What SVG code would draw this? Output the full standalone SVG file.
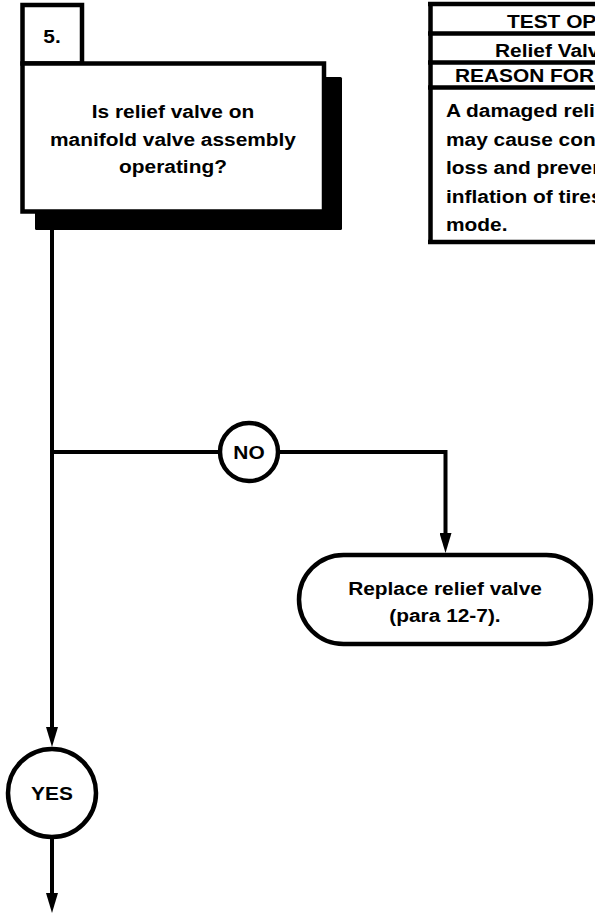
<svg xmlns="http://www.w3.org/2000/svg" width="595" height="915" viewBox="0 0 595 915">
  <style>
    .box { fill: #fff; stroke: #000; stroke-width: 4.5; }
    .shadow { fill: #000; }
    .edge { fill: none; stroke: #000; stroke-width: 4; stroke-linejoin: miter; }
    .rule { fill: none; stroke: #000; stroke-width: 4.5; }
    .t { font-family: "Liberation Sans", Arial, Helvetica, sans-serif; font-weight: bold; font-size: 18px; fill: #000; }
    .c { text-anchor: middle; }
  </style>
  <defs>
    <marker id="arrow" viewBox="0 0 20 12" refX="6" refY="6" markerWidth="20" markerHeight="12" markerUnits="userSpaceOnUse" orient="auto">
      <path d="M0,0 L20,6 L0,12 Z" fill="#000"/>
    </marker>
  </defs>

  <rect width="595" height="915" fill="#fff"/>

  <!-- connectors -->
  <g id="connectors">
    <path class="edge" d="M52,214 V733" marker-end="url(#arrow)"/>
    <path class="edge" d="M52,452 H220"/>
    <path class="edge" d="M278,452 H445.5 V539" marker-end="url(#arrow)"/>
    <path class="edge" d="M52,837 V899" marker-end="url(#arrow)"/>
  </g>

  <!-- step 5 question box -->
  <g id="step5">
    <rect class="shadow" x="35" y="77" width="307" height="153" rx="1.5"/>
    <rect class="box" x="22.5" y="5" width="59.5" height="58.5"/>
    <rect class="box" x="22.5" y="63.5" width="301.5" height="148"/>
    <text class="t c" transform="translate(52,43) scale(1.16,1)">5.</text>
    <text class="t c" transform="translate(173,118) scale(1.16,1)">Is relief valve on</text>
    <text class="t c" transform="translate(173,146) scale(1.16,1)">manifold valve assembly</text>
    <text class="t c" transform="translate(173,173) scale(1.16,1)">operating?</text>
  </g>

  <!-- test options table -->
  <g id="test-table">
    <path class="rule" d="M430.5,2 V244 M428,4 H600 M428,33.5 H600 M428,62.5 H600 M428,87.5 H600 M428,242 H600"/>
    <text class="t" transform="translate(507,28) scale(1.16,1)">TEST OPT</text>
    <text class="t" transform="translate(495,57) scale(1.16,1)">Relief Valv</text>
    <text class="t" transform="translate(455,82) scale(1.16,1)">REASON FOR</text>
    <text class="t" transform="translate(446,117) scale(1.16,1)">A damaged reli</text>
    <text class="t" transform="translate(446,146) scale(1.16,1)">may cause con</text>
    <text class="t" transform="translate(446,174) scale(1.16,1)">loss and preven</text>
    <text class="t" transform="translate(446,203) scale(1.16,1)">inflation of tires</text>
    <text class="t" transform="translate(446,231) scale(1.16,1)">mode.</text>
  </g>

  <!-- NO branch label -->
  <g id="no-label">
    <circle class="box" cx="249" cy="452" r="29" stroke-width="4"/>
    <text class="t c" transform="translate(249,458.5) scale(1.16,1)">NO</text>
  </g>

  <!-- replace relief valve terminal -->
  <g id="replace-valve">
    <rect class="box" x="299" y="555" width="292" height="89" rx="44.5" ry="44.5" stroke-width="4"/>
    <text class="t c" transform="translate(445,595) scale(1.16,1)">Replace relief valve</text>
    <text class="t c" transform="translate(445,622) scale(1.16,1)">(para 12-7).</text>
  </g>

  <!-- YES branch label -->
  <g id="yes-label">
    <circle class="box" cx="52" cy="793" r="44" stroke-width="4"/>
    <text class="t c" transform="translate(52,799.5) scale(1.16,1)">YES</text>
  </g>
</svg>
